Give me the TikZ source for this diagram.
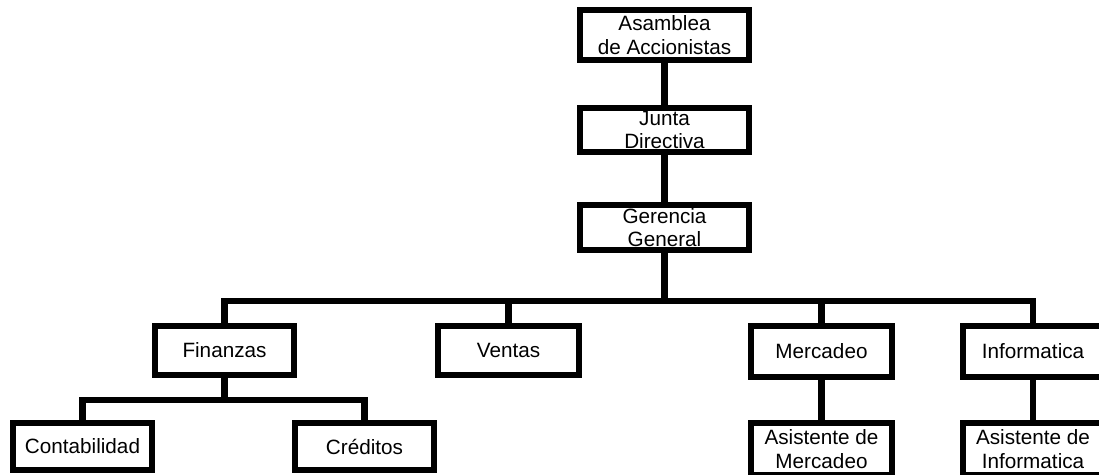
\documentclass[tikz,border=0pt]{standalone}
\usepackage{fontspec}
\setmainfont{Liberation Sans}
\begin{document}
\begin{tikzpicture}[x=1pt,y=-1pt,
  box/.style={draw=black, line width=6pt, fill=white, inner sep=0pt, align=center,
    font=\fontsize{20.7}{23.8}\selectfont},
  link/.style={draw=black, line width=6.5pt}]
\useasboundingbox (0,0) rectangle (1099,474);
\clip (0,0) rectangle (1099,474);
\coordinate (b1) at (664.5,301);
\coordinate (b2) at (224.5,400);
\node[box, minimum width=169pt, minimum height=50pt] (asa) at (664.5,35) {Asamblea\\de Accionistas};
\node[box, minimum width=169pt, minimum height=44pt] (jun) at (664.5,130) {Junta\\Directiva};
\node[box, minimum width=169pt, minimum height=45pt] (ger) at (664.5,227.5) {Gerencia\\General};
\node[box, minimum width=139pt, minimum height=49pt] (fin) at (224.5,350.5) {Finanzas};
\node[box, minimum width=141pt, minimum height=49pt] (ven) at (508.5,350.5) {Ventas};
\node[box, minimum width=141pt, minimum height=51pt] (mer) at (821.5,351) {Mercadeo};
\node[box, minimum width=140pt, minimum height=51pt] (inf) at (1033,351) {Informatica};
\node[box, minimum width=139pt, minimum height=47pt] (con) at (82.5,446.5) {Contabilidad};
\node[box, minimum width=139pt, minimum height=47pt] (cre) at (364.5,446.5) {Créditos};
\node[box, minimum width=141pt, minimum height=52pt] (amer) at (821.5,449) {Asistente de\\Mercadeo};
\node[box, minimum width=140pt, minimum height=52pt] (ainf) at (1033,449) {Asistente de\\Informatica};
\draw[link] (asa.south) -- (jun.north);
\draw[link] (jun.south) -- (ger.north);
\draw[link] (ger.south) -- (b1);
\draw[link] (fin.north) |- (b1) -| (inf.north);
\draw[link] (ven.north) -- (ven.north |- b1);
\draw[link] (mer.north) -- (mer.north |- b1);
\draw[link] (fin.south) -- (b2);
\draw[link] (con.north) |- (b2) -| (cre.north);
\draw[link] (mer.south) -- (amer.north);
\draw[link] (inf.south) -- (ainf.north);
\end{tikzpicture}
\end{document}
